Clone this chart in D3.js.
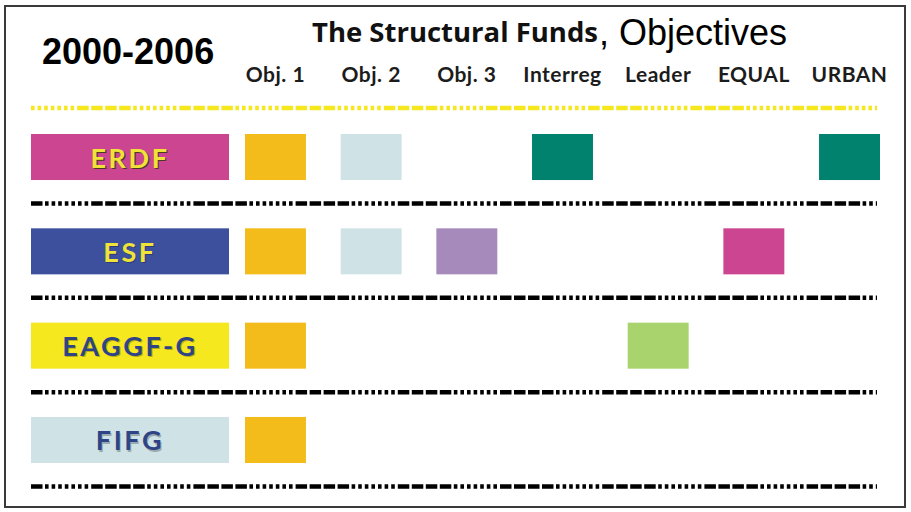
<!DOCTYPE html>
<html>
<head>
<meta charset="utf-8">
<script src="https://cdn.jsdelivr.net/npm/d3@7"></script>
<style>
  body { margin: 0; background: #fff; }
  svg { display: block; }
</style>
</head>
<body>
<svg id="chart" width="911" height="512"></svg>
<script>
// funds (rows) and objectives (columns)
const funds = ["ERDF", "ESF", "EAGGF-G", "FIFG"];
const fundColors = ["#cc4590", "#3c509d", "#f5e81f", "#cfe3e6"];
const fundTextColors = ["#efe33a", "#efe33a", "#2e4486", "#2e4486"];

const objectives = ["Obj. 1", "Obj. 2", "Obj. 3", "Interreg", "Leader", "EQUAL", "URBAN"];
const objectiveColors = ["#f3bc1b", "#cfe3e6", "#a58abb", "#00826f", "#a9d36d", "#cc4590", "#00826f"];

// which fund contributes to which objective
const cells = [
  ["ERDF", "Obj. 1"], ["ERDF", "Obj. 2"], ["ERDF", "Interreg"], ["ERDF", "URBAN"],
  ["ESF", "Obj. 1"], ["ESF", "Obj. 2"], ["ESF", "Obj. 3"], ["ESF", "EQUAL"],
  ["EAGGF-G", "Obj. 1"], ["EAGGF-G", "Leader"],
  ["FIFG", "Obj. 1"],
];

const svg = d3.select("#chart");

const x = d3.scaleBand().domain(objectives).range([245, 880]).paddingInner(0.363);
const y = d3.scaleBand().domain(funds).range([134, 463]).paddingInner(0.512);
const objColor = d3.scaleOrdinal().domain(objectives).range(objectiveColors);
const fundColor = d3.scaleOrdinal().domain(funds).range(fundColors);
const fundText = d3.scaleOrdinal().domain(funds).range(fundTextColors);

const lineX0 = 31;
const lineX1 = 877;
const labelX0 = 31;
const labelX1 = 229;

// frame
svg.append("rect")
  .attr("x", 5).attr("y", 6)
  .attr("width", 900).attr("height", 501)
  .attr("fill", "none")
  .attr("stroke", "#3a3a3a")
  .attr("stroke-width", 2);

// titles
svg.append("text")
  .attr("x", 42).attr("y", 64)
  .style("font-family", "Liberation Sans, Arial, sans-serif")
  .style("font-weight", "bold")
  .style("font-size", "36px")
  .attr("fill", "#000")
  .text("2000-2006");

svg.append("text")
  .attr("x", 312).attr("y", 42)
  .attr("textLength", 286)
  .attr("lengthAdjust", "spacingAndGlyphs")
  .style("font-family", "Open Sans, sans-serif")
  .style("font-weight", "bold")
  .style("font-size", "26px")
  .attr("fill", "#111")
  .text("The Structural Funds");

svg.append("text")
  .attr("x", 599).attr("y", 45)
  .style("font-family", "Liberation Sans, Arial, sans-serif")
  .style("font-size", "36px")
  .attr("fill", "#000")
  .text(", Objectives");

// column headers
svg.append("g")
  .selectAll("text")
  .data(objectives)
  .join("text")
  .attr("x", (d) => x(d) + x.bandwidth() / 2)
  .attr("y", 82)
  .attr("text-anchor", "middle")
  .style("font-family", "Lato, sans-serif")
  .style("font-weight", "bold")
  .style("font-size", "21px")
  .style("letter-spacing", "0.5px")
  .attr("fill", "#1c1c1c")
  .text((d) => d);

// separators: mix of long dashes and short ticks
const dashPattern = "11.5,2.5,11.5,2.5,11.5,2.5,11.5,2.5,3.6,3,3.6,3,3.6,3,3.6,3,3.6,3,3.6,3,3.6,3";

svg.append("line")
  .attr("x1", lineX0).attr("x2", lineX1)
  .attr("y1", y(funds[0]) - 26).attr("y2", y(funds[0]) - 26)
  .attr("stroke", "#f5e81f")
  .attr("stroke-width", 4.5)
  .attr("stroke-dasharray", dashPattern)
  .attr("stroke-dashoffset", 56);

svg.append("g")
  .selectAll("line")
  .data(funds)
  .join("line")
  .attr("x1", lineX0).attr("x2", lineX1)
  .attr("y1", (d) => y(d) + y.bandwidth() + 23.5)
  .attr("y2", (d) => y(d) + y.bandwidth() + 23.5)
  .attr("stroke", "#000")
  .attr("stroke-width", 4.5)
  .attr("stroke-dasharray", dashPattern)
  .attr("stroke-dashoffset", 42);

// fund label boxes
const labels = svg.append("g")
  .selectAll("g")
  .data(funds)
  .join("g");

labels.append("rect")
  .attr("x", labelX0)
  .attr("y", (d) => y(d))
  .attr("width", labelX1 - labelX0)
  .attr("height", y.bandwidth())
  .attr("fill", (d) => fundColor(d));

// soft dark shadow under the fund names
labels.append("text")
  .attr("x", (labelX0 + labelX1) / 2 + 1.2)
  .attr("y", (d) => y(d) + y.bandwidth() / 2 + 1.2)
  .attr("text-anchor", "middle")
  .attr("dominant-baseline", "central")
  .style("font-family", "Lato, sans-serif")
  .style("font-weight", "bold")
  .style("font-size", "27px")
  .style("letter-spacing", "2.6px")
  .attr("fill", (d) => (d === "ERDF" ? "#4a3a20" : "rgba(0,0,0,0.25)"))
  .text((d) => d);

labels.append("text")
  .attr("x", (labelX0 + labelX1) / 2)
  .attr("y", (d) => y(d) + y.bandwidth() / 2)
  .attr("text-anchor", "middle")
  .attr("dominant-baseline", "central")
  .style("font-family", "Lato, sans-serif")
  .style("font-weight", "bold")
  .style("font-size", "27px")
  .style("letter-spacing", "2.6px")
  .attr("fill", (d) => fundText(d))
  .text((d) => d);

// objective cells
svg.append("g")
  .selectAll("rect")
  .data(cells)
  .join("rect")
  .attr("x", (d) => x(d[1]))
  .attr("y", (d) => y(d[0]))
  .attr("width", x.bandwidth())
  .attr("height", y.bandwidth())
  .attr("fill", (d) => objColor(d[1]));
</script>
</body>
</html>
